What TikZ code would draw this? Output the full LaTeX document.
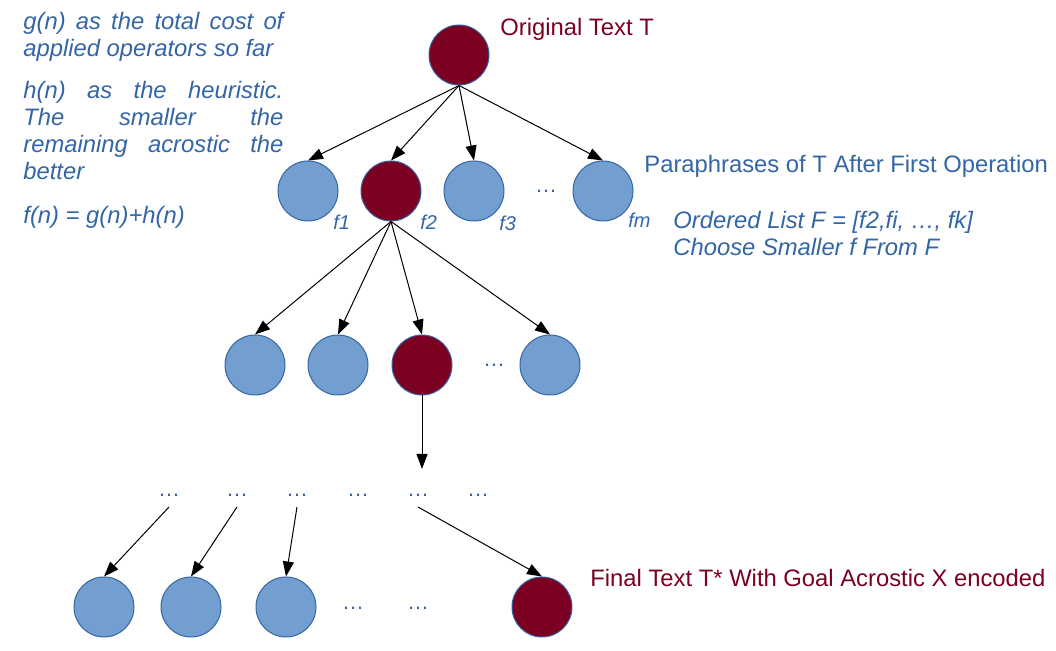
\documentclass[tikz,border=0pt]{standalone}
\usepackage{fontspec}
\setmainfont{Liberation Sans}
\usetikzlibrary{positioning,arrows.meta}
\definecolor{textblue}{RGB}{52,101,164}
\definecolor{nodeblue}{RGB}{114,159,207}
\definecolor{pathred}{RGB}{123,0,34}
\tikzset{
  plain/.style   = {circle, draw=textblue, line width=0.5pt, fill=nodeblue,
                    minimum size=30pt, inner sep=0pt},
  chosen/.style  = {plain, fill=pathred},
  more/.style    = {text=textblue, font=\fontsize{11}{13}\selectfont,
                    inner sep=0pt, anchor=base},
  score/.style   = {text=textblue, font=\fontsize{10}{12}\selectfont\itshape,
                    inner sep=0pt, anchor=base west},
  note/.style    = {text=textblue, font=\fontsize{11.9}{13.5}\selectfont,
                    inner sep=0pt, anchor=base west, align=left},
  rednote/.style = {note, text=pathred},
  slanted/.style = {note, font=\fontsize{11.9}{13.5}\selectfont\itshape},
  expand/.style  = {-{Triangle[length=7.5pt,width=5.5pt]}, line width=0.5pt, black},
}

\begin{document}
\begin{tikzpicture}[x=0.5pt, y=-0.5pt]
      \useasboundingbox (0,0) rectangle (1056,651);

      % search tree
      \node[chosen] (root) at (459,55) {};

      \node[plain]  (f1) at (308,191) {};
      \node[chosen] (f2) at (391,191) {};
      \node[plain]  (f3) at (474,191) {};
      \node[more]   (d11) at (546,193) {\ldots};
      \node[plain]  (fm) at (603,191) {};

      \node[plain]  (c21) at (255,365) {};
      \node[plain]  (c22) at (338,365) {};
      \node[chosen] (c23) at (422,365) {};
      \node[more]   (d21) at (494,367) {\ldots};
      \node[plain]  (c24) at (550,365) {};

      \coordinate (gap) at (422,469);
      \foreach \n/\x in {1/169, 2/237, 3/297, 4/358, 5/418, 6/478} {
        \node[more] (d\n) at (\x,497) {\ldots};
      }

      \node[plain]  (c41) at (104,607) {};
      \node[plain]  (c42) at (191,607) {};
      \node[plain]  (c43) at (286,607) {};
      \node[more]   (d41) at (353,610) {\ldots};
      \node[more]   (d42) at (418,610) {\ldots};
      \node[chosen] (c44) at (542,607) {};

      % f values
      \node[score] (s1) at (333,230) {f1};
      \node[score] (s2) at (420,230) {f2};
      \node[score] (s3) at (499,231) {f3};
      \node[score] (sm) at (628,228) {fm};

      % edges
      \foreach \c in {f1, f2, f3, fm} {
        \draw[expand] (root.south) -- (\c.north);
      }
      \foreach \c in {c21, c22, c23, c24} {
        \draw[expand] (f2.south) -- (\c.north);
      }
      \draw[expand] (c23.south) -- (gap);
      \foreach \a/\b in {d1/c41, d2/c42, d3/c43, d5/c44} {
        \draw[expand] ([yshift=-5pt]\a.base) -- (\b.north);
      }

      % texts (base = last line)
      \node[rednote] (orig) at (500,36) {Original Text T};
      \node[note] (para) at (644,173) {Paraphrases of T After First Operation};
      \node[slanted] (list) at (673,256)
           {Ordered List F = [f2,fi, \ldots, fk]\\Choose Smaller f From F};
      \node[rednote] (final) at (590,587) {Final Text T* With Goal Acrostic X encoded};

      \node[slanted] (gdef) at (23,57)
           {\makebox[130pt][s]{g(n) as the total cost of}\\applied operators so far};
      \node[slanted] (hdef) at (23,180)
           {\makebox[130pt][s]{h(n) as the heuristic.}\\
            \makebox[130pt][s]{The smaller the}\\
            \makebox[130pt][s]{remaining acrostic the}\\better};
      \node[slanted] (fdef) at (23,224) {f(n) = g(n)+h(n)};

    \end{tikzpicture}
\end{document}
